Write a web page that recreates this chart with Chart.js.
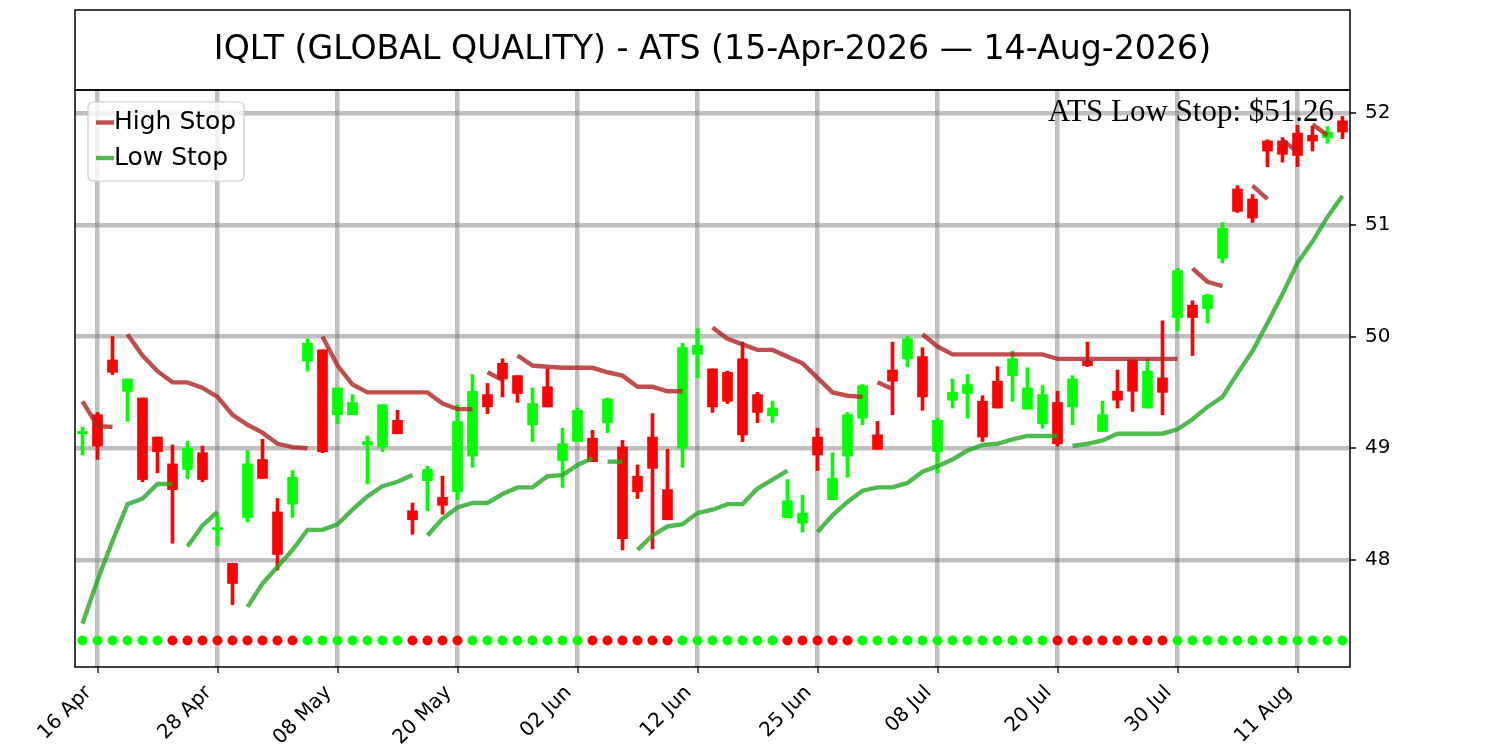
<!DOCTYPE html>
<html>
<head>
<meta charset="utf-8">
<title>IQLT ATS</title>
<script src="https://cdn.jsdelivr.net/npm/chart.js@4.4.1/dist/chart.umd.min.js"></script>
<style>
  html, body { margin: 0; padding: 0; background: #fff; }
</style>
</head>
<body>
<canvas id="chart" width="1500" height="750"></canvas>
<script>
// trading days (categories)
const dates = ['15 Apr','16 Apr','17 Apr','20 Apr','21 Apr','22 Apr','23 Apr','24 Apr','27 Apr','28 Apr','29 Apr','30 Apr',
  '01 May','04 May','05 May','06 May','07 May','08 May','11 May','12 May','13 May','14 May','15 May','18 May','19 May','20 May',
  '21 May','22 May','26 May','27 May','28 May','29 May',
  '01 Jun','02 Jun','03 Jun','04 Jun','05 Jun','08 Jun','09 Jun','10 Jun','11 Jun','12 Jun','15 Jun','16 Jun','17 Jun','18 Jun',
  '22 Jun','23 Jun','24 Jun','25 Jun','26 Jun','29 Jun','30 Jun',
  '01 Jul','02 Jul','06 Jul','07 Jul','08 Jul','09 Jul','10 Jul','13 Jul','14 Jul','15 Jul','16 Jul','17 Jul','20 Jul','21 Jul',
  '22 Jul','23 Jul','24 Jul','27 Jul','28 Jul','29 Jul','30 Jul','31 Jul',
  '03 Aug','04 Aug','05 Aug','06 Aug','07 Aug','10 Aug','11 Aug','12 Aug','13 Aug','14 Aug'];

// OHLC
const opens = [49.13,49.30,49.79,49.51,49.45,49.10,48.86,48.81,48.96,48.27,47.97,48.38,48.90,48.43,48.50,
  49.78,49.88,49.30,49.30,49.03,49.01,49.25,48.44,48.71,48.56,48.61,48.93,49.48,49.76,49.65,
  49.21,49.55,48.89,49.06,49.09,49.23,49.01,48.75,49.10,48.63,49.00,49.84,49.71,49.68,49.80,
  49.48,49.29,48.38,48.33,49.10,48.54,48.93,49.27,49.12,49.70,49.80,49.82,48.97,49.43,49.49,
  49.42,49.60,49.65,49.35,49.22,49.41,49.37,49.78,49.15,49.51,49.79,49.36,49.63,50.17,50.28,
  50.25,50.70,51.32,51.23,51.75,51.75,51.82,51.80,51.78,51.93];
const highs = [49.19,49.32,50.00,49.62,49.45,49.10,49.03,49.06,49.02,48.40,47.97,48.98,49.08,48.55,48.80,
  49.98,49.88,49.54,49.48,49.11,49.39,49.34,48.51,48.84,48.75,49.39,49.66,49.58,49.80,49.65,
  49.54,49.71,49.18,49.36,49.16,49.45,49.07,48.85,49.31,48.99,49.94,50.07,49.71,49.69,49.95,
  49.50,49.42,48.72,48.58,49.18,48.96,49.32,49.57,49.24,49.95,50.00,49.90,49.27,49.62,49.66,
  49.47,49.73,49.87,49.72,49.56,49.51,49.65,49.95,49.42,49.70,49.79,49.80,50.14,50.61,50.32,
  50.38,51.02,51.35,51.27,51.76,51.78,51.89,51.88,51.88,51.97];
const lows = [48.94,48.90,49.66,49.24,48.70,48.78,48.15,48.73,48.70,48.13,47.60,48.34,48.73,47.91,48.38,
  49.69,48.96,49.22,49.30,48.68,48.97,49.13,48.23,48.44,48.41,48.54,48.83,49.31,49.46,49.41,
  49.06,49.37,48.65,49.06,48.88,49.14,48.09,48.55,48.10,48.36,48.83,49.63,49.32,49.40,49.06,
  49.23,49.23,48.38,48.25,48.80,48.54,48.74,49.21,48.99,49.30,49.73,49.34,48.78,49.36,49.27,
  49.06,49.36,49.42,49.35,49.18,49.02,49.21,49.73,49.15,49.36,49.33,49.36,49.30,50.05,49.83,
  50.12,50.66,51.11,51.02,51.52,51.56,51.52,51.66,51.73,51.77];
const closes = [49.15,49.02,49.68,49.62,48.72,48.97,48.63,49.00,48.72,48.29,47.79,48.86,48.73,48.05,48.74,
  49.94,48.97,49.54,49.41,49.06,49.39,49.13,48.36,48.81,48.49,49.24,49.51,49.37,49.62,49.49,
  49.40,49.37,49.04,49.34,48.88,49.44,48.19,48.61,48.82,48.36,49.90,49.92,49.37,49.42,49.12,
  49.32,49.36,48.53,48.42,48.94,48.73,49.30,49.56,48.99,49.60,49.98,49.46,49.25,49.50,49.57,
  49.10,49.36,49.80,49.54,49.48,49.04,49.62,49.74,49.30,49.43,49.51,49.69,49.50,50.59,50.17,
  50.37,50.97,51.12,51.06,51.66,51.63,51.62,51.75,51.83,51.83];

// stop lines (null = no value); breaks = index where a new segment starts
const highStop = [49.42,49.20,49.19,
  50.02,49.83,49.69,49.59,49.59,49.54,49.46,49.30,49.21,49.14,49.04,49.01,49.00,
  50.00,49.74,49.57,49.50,49.50,49.50,49.50,49.50,49.40,49.35,49.35,
  49.68,49.61,
  49.83,49.74,49.73,49.72,49.72,49.72,49.68,49.65,49.55,49.55,49.51,49.51,
  null,
  50.08,49.98,49.93,49.88,49.88,49.82,49.76,49.63,49.50,49.47,49.46,
  49.59,49.53,
  null,
  50.02,49.91,49.84,49.84,49.84,49.84,49.84,49.84,49.84,49.80,49.80,49.80,49.80,49.80,49.80,49.80,49.80,49.80,
  50.61,50.49,50.45,
  null,
  51.35,51.23,
  51.76,51.65,
  51.90,51.80,
  null];
const highBreaks = [3, 16, 27, 29, 53, 74, 80, 82];

const lowStop = [47.43,47.82,48.17,48.50,48.55,48.68,48.68,
  48.12,48.31,48.43,
  null,
  47.58,47.79,47.94,48.09,48.27,48.27,48.32,48.45,48.57,48.66,48.70,48.76,
  48.22,48.37,48.47,48.51,48.51,48.59,48.65,48.65,48.75,48.76,48.85,48.91,
  48.88,48.88,
  48.09,48.22,48.30,48.32,48.42,48.45,48.50,48.50,48.64,48.72,48.80,
  null,
  48.25,48.40,48.52,48.62,48.65,48.65,48.69,48.79,48.84,48.90,48.98,49.03,49.04,49.08,49.11,49.11,49.11,
  49.02,49.04,49.07,49.13,49.13,49.13,49.13,49.17,49.26,49.37,49.46,49.67,49.87,50.12,50.38,50.66,50.85,51.07,51.26];
const lowBreaks = [7, 23, 35, 37, 66];

// trend markers along the bottom: 1 up, -1 down
const trend = [1,1,1,1,1,1,-1,-1,-1,-1,-1,-1,-1,-1,-1,1,1,1,1,1,1,1,-1,-1,-1,-1,
  1,1,1,1,1,1,1,1,-1,-1,-1,-1,-1,-1,1,1,1,1,1,1,1,-1,-1,-1,-1,-1,
  1,1,1,1,1,1,1,1,1,1,1,1,1,-1,-1,-1,-1,-1,-1,-1,-1,
  1,1,1,1,1,1,1,1,1,1,1,1];
const dotLevel = 47.28;

const tickIdx = [1, 9, 17, 25, 33, 41, 49, 57, 65, 73, 81];
const yTicks = [48, 49, 50, 51, 52];
const titleText = 'IQLT (GLOBAL QUALITY) - ATS (15-Apr-2026 \u2014 14-Aug-2026)';

const UP = '#00ff00', DOWN = '#ff0000';
const highColor = 'rgba(178,34,34,0.8)';
const lowColor = 'rgba(34,170,34,0.8)';
const gridColor = 'rgba(128,128,128,0.5)';

const candleColors = closes.map((c, i) => c >= opens[i] ? UP : DOWN);

// title box, frame, tick marks, legend and the stop note
const framePlugin = {
  id: 'frame',
  afterDraw(chart) {
    const ctx = chart.ctx, a = chart.chartArea;
    const xs = chart.scales.x, ys = chart.scales.y;
    ctx.save();
    ctx.strokeStyle = '#000';
    ctx.lineWidth = 1.5;
    ctx.strokeRect(a.left, 10, a.right - a.left, a.top - 10);
    ctx.strokeRect(a.left, a.top, a.right - a.left, a.bottom - a.top);

    ctx.fillStyle = '#000';
    ctx.font = '33.2px "DejaVu Sans"';
    ctx.textAlign = 'center';
    ctx.textBaseline = 'middle';
    ctx.fillText(titleText, (a.left + a.right) / 2, 50);

    // tick marks
    ctx.lineWidth = 1.3;
    ctx.beginPath();
    tickIdx.forEach(i => {
      const px = Math.round(xs.getPixelForValue(i));
      ctx.moveTo(px, a.bottom); ctx.lineTo(px, a.bottom + 6);
    });
    yTicks.forEach(v => {
      const py = Math.round(ys.getPixelForValue(v));
      ctx.moveTo(a.right, py); ctx.lineTo(a.right + 6, py);
    });
    ctx.stroke();

    // note
    ctx.font = '31px "Liberation Serif"';
    ctx.textAlign = 'right';
    ctx.textBaseline = 'alphabetic';
    ctx.fillText('ATS Low Stop: $' + lowStop[lowStop.length - 1].toFixed(2), a.right - 16, 121);

    // legend
    const lx = 88, ly = 102, lw = 156, lh = 79;
    ctx.beginPath();
    ctx.roundRect(lx, ly, lw, lh, 5);
    ctx.fillStyle = 'rgba(255,255,255,0.8)';
    ctx.fill();
    ctx.strokeStyle = '#cccccc';
    ctx.lineWidth = 1.2;
    ctx.stroke();
    const items = [['High Stop', highColor, 122.5], ['Low Stop', lowColor, 158]];
    ctx.font = '25px "DejaVu Sans"';
    ctx.textAlign = 'left';
    ctx.textBaseline = 'middle';
    items.forEach(([txt, col, y]) => {
      ctx.strokeStyle = col;
      ctx.lineWidth = 4.4;
      ctx.beginPath(); ctx.moveTo(96, y); ctx.lineTo(114, y); ctx.stroke();
      ctx.fillStyle = '#000';
      ctx.fillText(txt, 114, y);
    });
    ctx.restore();
  }
};

new Chart(document.getElementById('chart'), {
  type: 'bar',
  data: {
    datasets: [
      {
        type: 'line', label: 'High Stop',
        data: highStop.map((v, i) => ({ x: i, y: v })),
        borderColor: highColor, borderWidth: 4.4, pointRadius: 0, spanGaps: false,
        segment: { borderColor: c => highBreaks.includes(c.p1DataIndex) ? 'rgba(0,0,0,0)' : highColor },
        order: 0
      },
      {
        type: 'line', label: 'Low Stop',
        data: lowStop.map((v, i) => ({ x: i, y: v })),
        borderColor: lowColor, borderWidth: 4.4, pointRadius: 0, spanGaps: false,
        segment: { borderColor: c => lowBreaks.includes(c.p1DataIndex) ? 'rgba(0,0,0,0)' : lowColor },
        order: 0
      },
      {
        label: 'body',
        data: opens.map((o, i) => ({ x: i, y: [o, closes[i]] })),
        backgroundColor: candleColors, barThickness: 10, grouped: false, order: 1
      },
      {
        label: 'wick',
        data: lows.map((l, i) => ({ x: i, y: [l, highs[i]] })),
        backgroundColor: candleColors, barThickness: 3, grouped: false, order: 2
      },
      {
        type: 'line', label: 'trend',
        data: trend.map((t, i) => ({ x: i, y: dotLevel })),
        showLine: false, pointRadius: 5, pointBorderWidth: 0,
        pointBackgroundColor: trend.map(t => t > 0 ? UP : DOWN),
        order: 3
      }
    ]
  },
  options: {
    responsive: false,
    animation: false,
    devicePixelRatio: 1,
    layout: { padding: { left: 75, top: 90, right: 0, bottom: 0 } },
    plugins: { legend: { display: false }, tooltip: { enabled: false } },
    scales: {
      x: {
        type: 'linear', min: -0.5, max: 84.5, offset: false, z: 1,
        grid: { color: gridColor, lineWidth: 4.5, drawTicks: false, offset: false },
        border: { display: false },
        ticks: {
          callback: v => dates[v], maxRotation: 45, minRotation: 45,
          font: { family: 'DejaVu Sans', size: 20 }, color: '#000', padding: 14, labelOffset: -9
        },
        afterBuildTicks: s => { s.ticks = tickIdx.map(v => ({ value: v })); },
        afterFit: s => { s.height = 83; }
      },
      y: {
        position: 'right', min: 47.0425, max: 52.206, z: 1,
        grid: { color: gridColor, lineWidth: 4.5, drawTicks: false },
        border: { display: false },
        ticks: {
          callback: v => String(v),
          font: { family: 'DejaVu Sans', size: 20 }, color: '#000', padding: 15
        },
        afterBuildTicks: s => { s.ticks = yTicks.map(v => ({ value: v })); },
        afterFit: s => { s.width = 150; }
      }
    }
  },
  plugins: [framePlugin]
});
</script>
</body>
</html>
